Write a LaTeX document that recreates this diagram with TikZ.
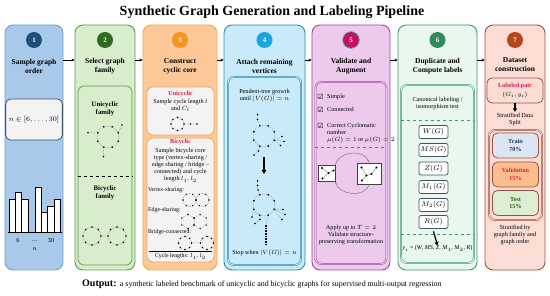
\documentclass[tikz,border=0pt]{standalone}
\usepackage{fontspec}
\setmainfont{Liberation Serif}
\newfontfamily\symfont{DejaVu Sans}
\usetikzlibrary{arrows.meta}

\definecolor{fill1}{HTML}{A9C9EB}
\definecolor{line1}{HTML}{6F9FD2}
\definecolor{dot1}{HTML}{1F4E79}
\definecolor{fill2}{HTML}{D7EDCB}
\definecolor{line2}{HTML}{5E9C4C}
\definecolor{dot2}{HTML}{2E6B1E}
\definecolor{fill3}{HTML}{FDC897}
\definecolor{line3}{HTML}{F2A75A}
\definecolor{dot3}{HTML}{F7941D}
\definecolor{fill4}{HTML}{C9EAF8}
\definecolor{line4}{HTML}{2A8EA6}
\definecolor{dot4}{HTML}{1BA5E1}
\definecolor{fill5}{HTML}{EDCAEC}
\definecolor{line5}{HTML}{9C4A97}
\definecolor{dot5}{HTML}{C4105E}
\definecolor{fill6}{HTML}{EAF7EF}
\definecolor{line6}{HTML}{3C9B6B}
\definecolor{dot6}{HTML}{2E8B57}
\definecolor{fill7}{HTML}{FBDDD4}
\definecolor{line7}{HTML}{9E5047}
\definecolor{dot7}{HTML}{B5461B}
\definecolor{slate}{HTML}{3D5468}
\definecolor{hotred}{HTML}{E8174B}
\definecolor{boxgray}{HTML}{F3F3F3}
\definecolor{trainbl}{HTML}{DCE6F2}
\definecolor{valor}{HTML}{F9BE8C}
\definecolor{testgr}{HTML}{DDEDD2}
\definecolor{navy}{HTML}{1F3864}
\definecolor{dkgreen}{HTML}{2F5F1F}

\begin{document}
\begin{tikzpicture}[x=1pt,y=-1pt,
    panel/.style={draw,line width=0.9pt,rounded corners=8pt,minimum height=245pt,inner sep=0pt},
    numc/.style={circle,minimum size=16pt,inner sep=0pt,text=white,font=\bfseries\fontsize{7}{8}\selectfont},
    head/.style={align=center,inner sep=0pt,font=\bfseries\fontsize{7.5}{9}\selectfont},
    txt/.style={align=center,inner sep=0pt,font=\fontsize{6.2}{7.2}\selectfont},
    inbox/.style={draw,line width=0.7pt,rounded corners=6pt,inner sep=0pt},
    dbl/.style={double=#1,double distance=0.9pt,line width=0.5pt},
    edg/.style={gray,densely dotted,line width=0.5pt},
    lbl/.style={draw=slate,fill=white,line width=0.7pt,rounded corners=2pt,minimum width=29pt,minimum height=13pt,inner sep=0pt,font=\fontsize{7}{8}\selectfont},
    part/.style={draw=line7,line width=0.8pt,rounded corners=5pt,minimum width=46pt,minimum height=25pt,inner sep=0pt,align=center,font=\bfseries\fontsize{6.2}{7.5}\selectfont},
    flow/.style={-{Stealth[length=3pt,width=3pt]},line width=0.8pt},
    down/.style={-{Triangle[length=3.5pt,width=4pt]},line width=1.2pt}
  ]
  \useasboundingbox (0,0) rectangle (550,296);
  \node[font=\bfseries\fontsize{14}{16}\selectfont] (ttl) at (272,12) {Synthetic Graph Generation and Labeling Pipeline};

  % panels and step numbers
  \foreach \i/\x/\w in {1/34/58,2/105/60,3/180/74,4/264.5/81,5/351/78,6/437.5/79,7/515/60} {
    \node[panel,fill=fill\i,draw=line\i,minimum width=\w pt] (p\i) at (\x,147.5) {};
    \node[numc,fill=dot\i] (n\i) at (\x,40) {\i};
  }
  \draw[line4,line width=0.6pt] (n5) circle (8.3);
  \coordinate (ar) at (0,60);
  \foreach \a/\b in {1/2,2/3,3/4,4/5,5/6,6/7}
    \draw[flow] (p\a.east |- ar) -- (p\b.west |- ar);

  \node[head] (h1) at (34,66) {Sample graph\\order};
  \node[head] (h2) at (105,66) {Select graph\\family};
  \node[head] (h3) at (180,66) {Construct\\cyclic core};
  \node[head] (h4) at (264.5,66) {Attach remaining\\vertices};
  \node[head] (h5) at (351,66) {Validate and\\Augment};
  \node[head] (h6) at (437.5,66) {Duplicate and\\Compute labels};
  \node[head] (h7) at (515,65) {Dataset\\construction};

  % 1: order
  \node[draw=slate,fill=boxgray,line width=0.8pt,rounded corners=5pt,minimum width=53pt,minimum height=41pt,font=\fontsize{7.5}{9}\selectfont] (rng) at (34,119.5) {$n\in[6,\dots,30]$};
  \foreach \x/\t in {9/199,15.3/192,21.6/199,35/187,41.3/212,47.6/206,53.9/199}
    \draw[fill=white,line width=0.6pt] (\x,232) rectangle (\x+6.3,\t);
  \draw[line width=0.9pt] (8,232) -- (62,232);
  \node[txt] (x6) at (18,240) {6};
  \node[txt] (xd) at (35,241) {\dots};
  \node[txt] (x30) at (51,240) {30};
  \node[txt] (xn) at (35,249) {$n$};

  % 2: family
  \node[inbox,draw=line2,fill=fill2,minimum width=54pt,minimum height=179pt] (fam) at (105,175.5) {};
  \coordinate (dl) at (0,176);
  \draw[dashed,line width=0.7pt] (fam.west |- dl) -- (fam.east |- dl);
  \node[head,font=\bfseries\fontsize{6.8}{8.5}\selectfont] (uni2) at (105,109) {Unicyclic\\family};
  \node[head,font=\bfseries\fontsize{6.8}{8.5}\selectfont] (bi2) at (105,193) {Bicyclic\\family};
  \draw[edg] (108,137) circle (11);
  \draw[edg] (97.8,132.8) -- (88,132.8) (118.2,132.8) -- (122,125) (103.8,147.2) -- (103.5,156.5);
  \foreach \a in {22.5,67.5,...,337.5} \fill[shift={(108,137)}] (\a:11) circle (0.9);
  \foreach \p in {(88,132.8),(122,125),(103.5,156.5)} \fill \p circle (0.9);
  \draw[edg] (92,236) circle (9) (117,236) circle (9) (101,236) -- (108,236);
  \foreach \c in {92,117}
    \foreach \a in {0,45,...,315} \fill[shift={(\c,236)}] (\a:9) circle (0.9);

  % 3: cyclic core
  \node[inbox,draw=line3,fill=boxgray,minimum width=67pt,minimum height=48pt] (uni3) at (180.5,111) {};
  \node[inbox,draw=line3,fill=boxgray,minimum width=67pt,minimum height=124pt] (bi3) at (180.5,200) {};
  \node[txt,font=\bfseries\fontsize{6.2}{7.2}\selectfont,text=hotred] (unit) at (180.5,94.5) {Unicyclic};
  \node[txt] (unis) at (180.5,105.5) {Sample cycle length $l$\\and $C_l$};
  \draw[edg] (177.5,124) circle (6.5) (184,124) -- (197,124);
  \foreach \a in {0,45,...,315} \fill[shift={(177.5,124)}] (\a:6.5) circle (0.8);
  \foreach \p in {(190.5,124),(197,124)} \fill \p circle (0.8);
  \node[txt,font=\bfseries\fontsize{6.2}{7.2}\selectfont,text=hotred] (bit) at (180.5,142.5) {Bicyclic};
  \node[txt] (bis) at (180.5,165) {Sample bicycle core\\type (vertex-sharing /\\edge sharing / bridge --\\connected) and cycle\\length $l_1$, $l_2$};
  \node[txt,anchor=west,font=\fontsize{5.8}{7}\selectfont] (vs) at (148,190) {Vertex-sharing:};
  \draw[edg] (189.5,200) circle (6.5) (202.5,200) circle (6.5);
  \foreach \c in {189.5,202.5}
    \foreach \a in {0,60,...,300} \fill[shift={(\c,200)}] (\a:6.5) circle (0.8);
  \node[txt,anchor=west,font=\fontsize{5.8}{7}\selectfont] (es) at (148,210.5) {Edge-sharing:};
  \foreach \c in {188,200.1} {
    \draw[edg,shift={(\c,221.5)}] (30:7) -- (90:7) -- (150:7) -- (210:7) -- (270:7) -- (330:7) -- cycle;
    \foreach \a in {30,90,...,330} \fill[shift={(\c,221.5)}] (\a:7) circle (0.8);
  }
  \node[txt,anchor=west,font=\fontsize{5.8}{7}\selectfont] (bc) at (148,232) {Bridge-connected:};
  \draw[edg] (185,243) circle (6.5) (207,243) circle (6.5) (191.5,243) -- (200.5,243);
  \foreach \c in {185,207}
    \foreach \a in {0,45,...,315} \fill[shift={(\c,243)}] (\a:6.5) circle (0.8);
  \draw[line width=0.7pt] (149,251.5) -- (212,251.5);
  \node[txt,font=\fontsize{5.8}{7}\selectfont] (cl) at (180.5,256.5) {Cycle lengths: $l_1$, $l_2$};

  % 4: growth
  \node[inbox,draw=line4,dbl=fill4,minimum width=73pt,minimum height=188pt] (grow) at (264.5,171) {};
  \node[txt] (pt) at (264.5,96) {Pendent-tree growth\\until $|V(G)|=n$};
  \draw[edg] (264,136) circle (11);
  \draw[edg] (259.8,125.8) -- (257.5,119.5) -- (257.5,114.5)
    (274.2,140.2) -- (282,136.5) (274.2,140.2) -- (284,141.5) (274.2,140.2) -- (280.5,145.5)
    (259.8,146.2) -- (258.5,151) -- (254,155);
  \foreach \a in {22.5,67.5,...,337.5} \fill[shift={(264,136)}] (\a:11) circle (0.95);
  \foreach \p in {(257.5,119.5),(257.5,114.5),(282,136.5),(284,141.5),(280.5,145.5),(258.5,151),(254,155)}
    \fill \p circle (0.95);
  \coordinate (t1) at (264,157);
  \coordinate (t2) at (264,174);
  \draw[-{Triangle[length=4pt,width=4.5pt]},line width=1.4pt] (t1) -- (t2);
  \draw[edg] (264,205) circle (11);
  \draw[edg] (259.8,194.8) -- (258,190) -- (257.5,185.5) -- (257.5,181)
    (274.2,209.2) -- (283,209.5) (274.2,209.2) -- (285,214.5) (274.2,209.2) -- (282,219.5)
    (253.8,209.2) -- (252,217) (259.8,215.2) -- (260,219.5) -- (255,223.5)
    (268.2,215.2) -- (266,225);
  \foreach \a in {22.5,67.5,...,337.5} \fill[shift={(264,205)}] (\a:11) circle (0.95);
  \foreach \p in {(258,190),(257.5,185.5),(257.5,181),(283,209.5),(285,214.5),(282,219.5),(252,217),(260,219.5),(255,223.5)}
    \fill \p circle (0.95);
  \draw[line width=1.3pt,dash pattern=on 1.6pt off 1.1pt] (266,225) -- (266,245);
  \node[txt] (stop) at (264.5,253) {Stop when $|V(G)|=n$};

  % 5: validate
  \node[inbox,draw=line5,dbl=fill5,minimum width=71pt,minimum height=182pt] (val) at (351,173) {};
  \node[font=\symfont\fontsize{7}{7}\selectfont,inner sep=0pt] (cb1) at (320.5,97) {☑};
  \node[font=\symfont\fontsize{7}{7}\selectfont,inner sep=0pt] (cb2) at (320.5,109.5) {☑};
  \node[font=\symfont\fontsize{7}{7}\selectfont,inner sep=0pt] (cb3) at (320.5,126) {☑};
  \node[txt,anchor=west] (ck1) at (327,97) {Simple};
  \node[txt,anchor=west] (ck2) at (327,109.5) {Connected};
  \node[txt,anchor=north west,align=left] (ck3) at (327,123) {Correct Cyclomatic\\number\\$\mu(G)=1$ or $\mu(G)=2$};
  \coordinate (dl5) at (0,147.5);
  \draw[line4,dashed,line width=0.7pt] (val.west |- dl5) -- (val.east |- dl5);
  \node[draw=darkgray,fill=white,line width=0.6pt,minimum width=17pt,minimum height=16pt,inner sep=0pt] (gl) at (326.5,173) {};
  \node[draw=darkgray,fill=white,line width=0.6pt,minimum width=24pt,minimum height=21pt,inner sep=0pt] (gr) at (369,173.5) {};
  \draw[gray,line width=0.4pt] (322,168) -- (328.5,173) -- (322.5,178.5) (328.5,173) -- (333.5,170.5);
  \foreach \p in {(322,168),(328.5,173),(322.5,178.5),(333.5,170.5)} \fill \p circle (1.1);
  \draw[gray,line width=0.4pt] (361.5,167.5) -- (366.5,175.5) -- (362,180.5) (366.5,175.5) -- (371.5,174) -- (376.5,167.5);
  \foreach \p in {(361.5,167.5),(366.5,175.5),(362,180.5),(371.5,174),(376.5,167.5)} \fill \p circle (1.1);
  \draw[gray,-{Stealth[length=2.5pt]},line width=0.5pt] (gl.north east) to[out=75,in=110,looseness=1.1] (gr.north);
  \draw[gray,-{Stealth[length=2.5pt]},line width=0.5pt] (gr.south) to[out=-105,in=-75,looseness=1.1] (gl.south east);
  \node[txt] (apl) at (351,235) {Apply up to $T=2$\\Validate structure-\\preserving transformation};

  % 6: labels
  \node[inbox,draw=line6,dbl=fill6,minimum width=73pt,minimum height=178pt] (dup) at (437.5,174) {};
  \node[txt] (can) at (437.5,103.5) {Canonical labeling /\\isomorphism test};
  \coordinate (dl6a) at (0,120);
  \coordinate (dl6b) at (0,234);
  \draw[line6,dashed,line width=0.7pt] (dup.west |- dl6a) -- (dup.east |- dl6a);
  \draw[line6,dashed,line width=0.7pt] (dup.west |- dl6b) -- (dup.east |- dl6b);
  \foreach \t/\y [count=\i] in {W(G)/132,MS(G)/150,Z(G)/168.5,M_1(G)/187,M_2(G)/205,R(G)/222}
    \node[lbl] (l\i) at (433.5,\y) {$\t$};
  \node[txt,font=\fontsize{6}{7}\selectfont] (yi) at (437.5,248.5) {\textit{y}$_i$ = (\textit{W}, \textit{MS}, \textit{Z}, \textit{M}$_1$, \textit{M}$_2$, \textit{R})};
  \draw[down] ([yshift=-2.5pt]l6.south) -- (yi.north);

  % 7: dataset
  \node[draw=line7,fill=fill7,line width=0.8pt,rounded corners=5pt,minimum width=56pt,minimum height=25pt,inner sep=0pt,align=center,font=\fontsize{6.2}{8.5}\selectfont] (lp) at (515,90.5) {\textcolor{hotred}{\textbf{Labeled pair}}\\$(G_i,y_i)$};
  \node[txt] (sp) at (515,119.5) {Stratified Data\\Split};
  \draw[down] (lp.south) -- ([yshift=1pt]sp.north);
  \node[inbox,draw=line7,dbl=fill7,minimum width=53pt,minimum height=90pt] (splt) at (515.5,175) {};
  \node[part,fill=trainbl,text=navy] (tr) at (515.5,145.5) {Train\\70\%};
  \node[part,fill=valor,text=hotred] (va) at (515.5,174.5) {Validation\\15\%};
  \node[part,fill=testgr,text=dkgreen] (te) at (515.5,203) {Test\\15\%};
  \node[txt] (str) at (515,235) {Stratified by\\graph family and\\graph order};

  \node[anchor=west,inner sep=0pt] (out) at (82,284) {{\bfseries\fontsize{10}{12}\selectfont Output:} {\fontsize{7.9}{9}\selectfont a synthetic labeled benchmark of unicyclic and bicyclic graphs for supervised multi-output regression}};
\end{tikzpicture}
\end{document}
